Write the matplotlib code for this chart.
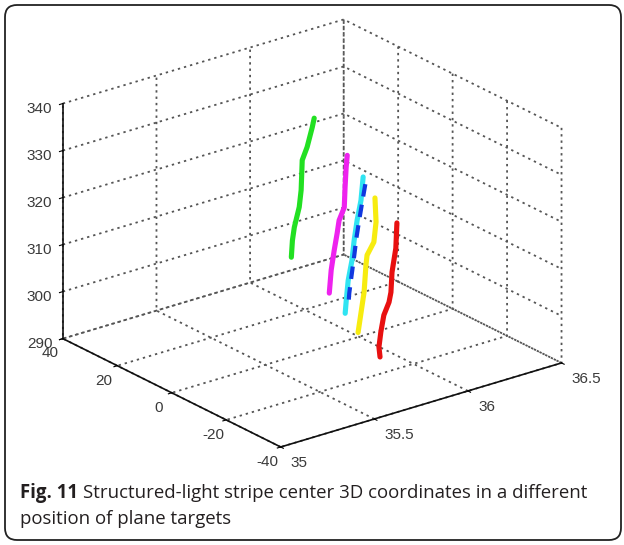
import matplotlib
matplotlib.use("Agg")
import matplotlib.pyplot as plt
import matplotlib.patches as mpatches
import numpy as np

plt.rcParams['axes.unicode_minus'] = False

# stripe center points (x, y, z) for each plane target position
green_y = [2.7, 3.4, 5.3, 7.1, 7.5, 8.2, 10.0, 10.7, 11.1]
green_z = [338.1, 336.0, 331.2, 327.9, 321.4, 317.6, 312.8, 309.8, 306.1]
green_x = [35.8] * len(green_y)

magenta_y = [-6.0, -5.6, -5.2, -4.9, -3.0, -2.3, -1.2, -0.1, 0.6]
magenta_z = [332.1, 329.5, 325.1, 320.7, 317.4, 314.5, 310.5, 306.0, 300.9]
magenta_x = [35.85] * len(magenta_y)

cyan_y = [-8.4, -7.6, -6.2, -5.1, -4.3, -2.9, -2.2, -1.8]
cyan_z = [327.6, 322.4, 317.8, 313.2, 308.7, 304.0, 299.6, 296.7]
cyan_x = [35.9] * len(cyan_y)

blue_y = [-9.2, -8.1, -7.0, -5.9, -5.1, -4.1, -3.3, -3.0]
blue_z = [326.3, 322.3, 318.2, 313.8, 309.8, 305.2, 301.4, 299.0]
blue_x = [35.9] * len(blue_y)

yellow_y = [-9.3, -9.7, -8.9, -6.4, -6.0, -5.3, -4.2, -3.1]
yellow_z = [322.8, 317.8, 313.3, 309.8, 307.6, 301.6, 297.0, 292.4]
yellow_x = [35.95] * len(yellow_y)

red_y = [-20.8, -20.4, -19.0, -18.6, -17.9, -16.0, -14.9, -14.2, -14.6]
red_z = [321.4, 315.9, 310.4, 306.0, 303.7, 300.4, 296.5, 293.1, 291.1]
red_x = [35.9] * len(red_y)

xticks = [35, 35.5, 36, 36.5]
yticks = [-40, -20, 0, 20, 40]
zticks = [290, 300, 310, 320, 330, 340]

fig = plt.figure(figsize=(6.24, 5.45), dpi=100)
ax = fig.add_axes([-0.0096, 0.1407, 1.0, 0.84], projection='3d')
ax.set_proj_type('ortho')
ax.view_init(elev=22.7, azim=-127.8)
ax.set_box_aspect((1, 1, 0.717), zoom=1.195)

lw = 3.7
ax.plot(green_x, green_y, green_z, color='#22e022', lw=lw, solid_capstyle='round')
ax.plot(magenta_x, magenta_y, magenta_z, color='#ee22ee', lw=lw, solid_capstyle='round')
ax.plot(cyan_x, cyan_y, cyan_z, color='#30e4f2', lw=lw, solid_capstyle='round')
ax.plot(blue_x, blue_y, blue_z, color='#1038e0', lw=3.0, ls=(0, (3, 2)))
ax.plot(yellow_x, yellow_y, yellow_z, color='#f7ec10', lw=lw, solid_capstyle='round')
ax.plot(red_x, red_y, red_z, color='#e81010', lw=lw, solid_capstyle='round')

ax.set_xlim(35, 36.5)
ax.set_ylim(-40, 40)
ax.set_zlim(290, 340)
ax.set_xticks(xticks)
ax.set_yticks(yticks)
ax.set_zticks(zticks)
ax.set_xticklabels(['35', '35.5', '36', '36.5'])

for axis in (ax.xaxis, ax.yaxis, ax.zaxis):
    axis.set_pane_color((1, 1, 1, 0))
    axis.line.set_color('#111111')
    axis.line.set_linewidth(1.2)
    axis._axinfo['grid'].update(color='#555555', linewidth=1.3, linestyle=(0, (1.3, 2.2)))
    axis._axinfo['tick']['inward_factor'] = 0.15
    axis._axinfo['tick']['outward_factor'] = 0.0
    for lab in axis.get_ticklabels():
        lab.set_fontfamily(['Liberation Sans Narrow', 'Liberation Sans'])
        lab.set_fontsize(11)
        lab.set_color('#3a3a3a')
ax.tick_params(pad=0)
for lab in ax.xaxis.get_ticklabels():
    lab.set_horizontalalignment('left')
    lab.set_verticalalignment('center')
for lab in ax.yaxis.get_ticklabels():
    lab.set_verticalalignment('center')

# caption
cap_size = 13.4
bold = fig.text(20 / 624, 1 - 498 / 545, 'Fig. 11', fontfamily='Open Sans', fontweight='bold',
                fontsize=cap_size, color='#231f20')
fig.canvas.draw()
bb = bold.get_window_extent()
fig.text((bb.x1 + 5) / 624, 1 - 498 / 545,
         'Structured-light stripe center 3D coordinates in a different',
         fontfamily='Open Sans', fontsize=cap_size, color='#231f20')
fig.text(20 / 624, 1 - 524 / 545, 'position of plane targets',
         fontfamily='Open Sans', fontsize=cap_size, color='#231f20')

border = mpatches.FancyBboxPatch((5, 5), 616, 535, boxstyle='round,pad=0,rounding_size=12',
                                 transform=None, facecolor='none', edgecolor='#222222', lw=1.3)
fig.add_artist(border)

fig.savefig('out.png', dpi=100)
